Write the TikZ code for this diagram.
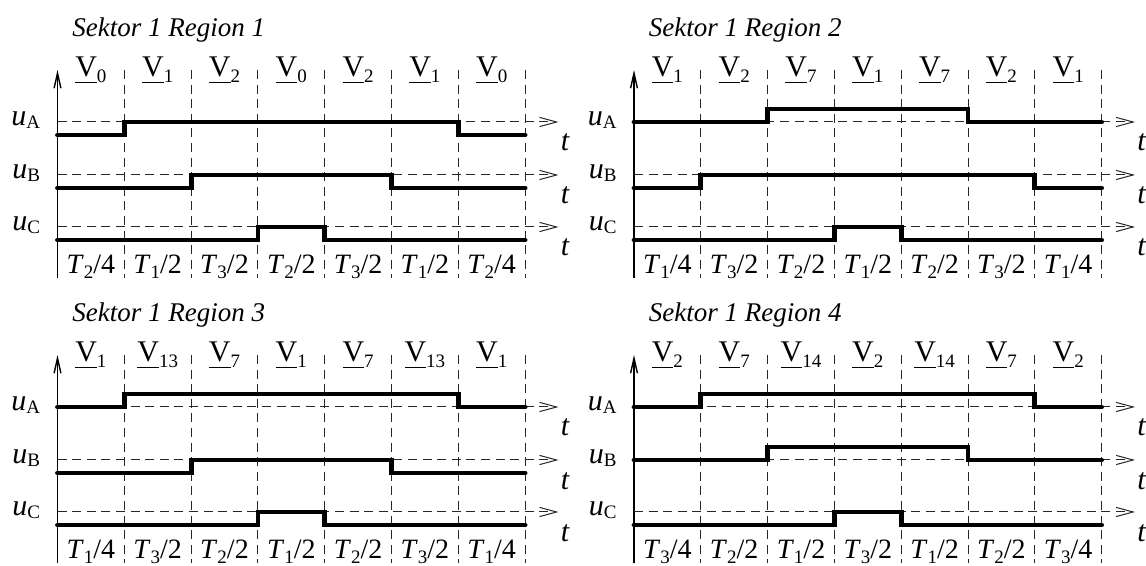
\documentclass[tikz,border=0pt]{standalone}
\usepackage{fontspec}
\setmainfont{Liberation Serif}
\usetikzlibrary{arrows.meta}
\newcommand{\szmain}{\fontsize{14}{16}\selectfont}
\newcommand{\szbig}{\fontsize{15}{17}\selectfont}
\newcommand{\szsub}{\fontsize{9.5}{11}\selectfont}
\newcommand{\uV}[1]{{\setbox0\hbox{V}\rlap{\rule[-3pt]{\wd0}{0.5pt}}\box0}\raisebox{-2.8pt}{\szsub #1}}
\newcommand{\uu}[1]{\textit{u}\raisebox{-1.5pt}{\szsub #1}}
\newcommand{\TT}[2]{\textit{T}\raisebox{-2.3pt}{\szsub #1}/#2}
\def\w{66.8}
\tikzset{
  dsh/.style={line width=0.5pt, black!85, dash pattern=on 4.5pt off 2.8pt},
  axisline/.style={line width=0.7pt, -{Straight Barb[length=7.5pt,width=3.4pt]}},
  refline/.style={dsh, -{Straight Barb[length=8.5pt,width=4.6pt]}},
  sigline/.style={line width=2.4pt, line cap=round, line join=miter},
  lab/.style={inner sep=0pt, font=\szmain},
  biglab/.style={inner sep=0pt, font=\szbig},
  titlelab/.style={inner sep=0pt, font=\fontsize{13.5}{16}\selectfont\itshape, anchor=base west},
}
% #1 ref y, #2 a, #3 b, #4 shift
\newcommand{\sigpath}[4]{%
  \pgfmathsetmacro{\hi}{#1-13*#4}%
  \pgfmathsetmacro{\lo}{#1+13-13*#4}%
  \draw[sigline] (0,\lo) -- ({#2*\w},\lo) -- ({#2*\w},\hi) -- ({#3*\w},\hi) -- ({#3*\w},\lo) -- ({7*\w},\lo);}
% #1 id, #2 shift, #3 title, #4 V list, #5 T list, #6 A, #7 B, #8 C
\newcommand{\panel}[8]{%
\begin{scope}[shift={#2}]
  \node[titlelab] (title#1) at (14.5,37) {#3};
  \foreach \k in {1,...,7} { \draw[dsh] ({\k*\w},70) -- ({\k*\w},278); }
  \draw[axisline] (0,278) -- (0,70);
  \foreach \r/\n in {122/A,175/B,227/C} {
    \draw[refline] (0,\r) -- (501,\r);
    \node[biglab, anchor=base west] (t#1\n) at (503,\r+29) {\textit{t}};
    \node[biglab, anchor=base east] (u#1\n) at (-17,\r+4) {\uu{\n}};
  }
  \foreach \a/\b/\s in {#6} { \sigpath{122}{\a}{\b}{\s} }
  \foreach \a/\b/\s in {#7} { \sigpath{175}{\a}{\b}{\s} }
  \foreach \a/\b/\s in {#8} { \sigpath{227}{\a}{\b}{\s} }
  \foreach \v [count=\k] in {#4} {
    \node[biglab, anchor=base] (v#1-\k) at ({(\k-0.5)*\w},77) {\uV{\v}};
  }
  \foreach \i/\d [count=\k] in {#5} {
    \node[lab, anchor=base] (T#1-\k) at ({(\k-0.5)*\w},274) {\TT{\i}{\d}};
  }
\end{scope}}
\begin{document}
\begin{tikzpicture}[x=0.5pt, y=-0.5pt]
\useasboundingbox (0,0) rectangle (1146,566);
\panel{1}{(57.5,0)}{Sektor 1 Region 1}{0,1,2,0,2,1,0}{2/4,1/2,3/2,2/2,3/2,1/2,2/4}{1/6/0}{2/5/0}{3/4/0}
\panel{2}{(634,0)}{Sektor 1 Region 2}{1,2,7,1,7,2,1}{1/4,3/2,2/2,1/2,2/2,3/2,1/4}{2/5/1}{1/6/0}{3/4/0}
\panel{3}{(57.5,285)}{Sektor 1 Region 3}{1,13,7,1,7,13,1}{1/4,3/2,2/2,1/2,2/2,3/2,1/4}{1/6/1}{2/5/0}{3/4/0}
\panel{4}{(634,285)}{Sektor 1 Region 4}{2,7,14,2,14,7,2}{3/4,2/2,1/2,3/2,1/2,2/2,3/4}{1/6/1}{2/5/1}{3/4/0}
\end{tikzpicture}
\end{document}
